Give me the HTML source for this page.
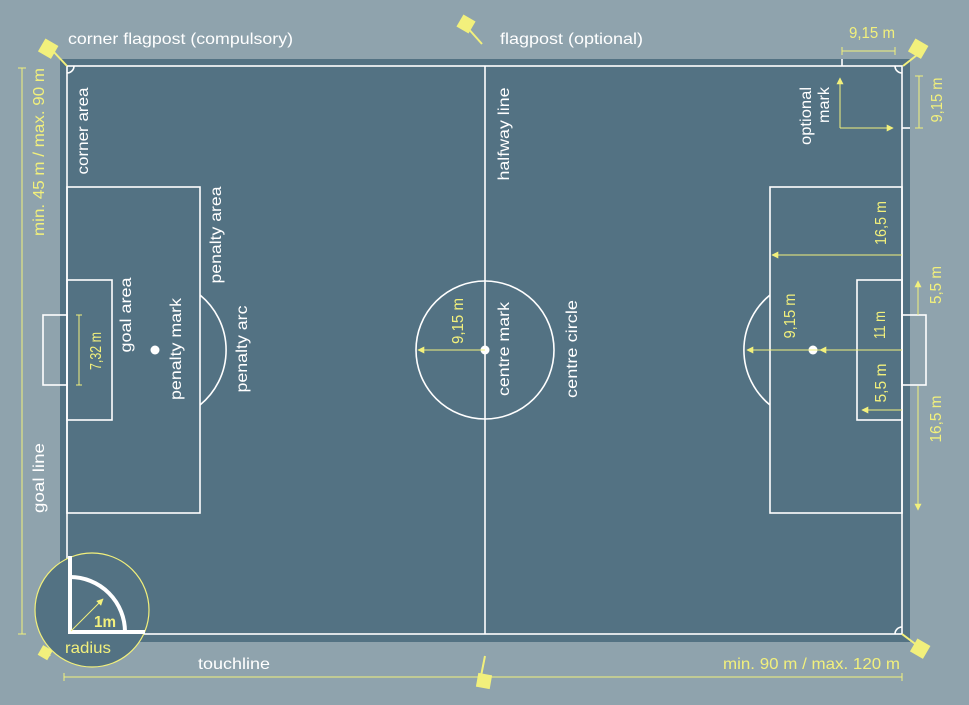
<!DOCTYPE html>
<html><head><meta charset="utf-8"><style>
html,body{margin:0;padding:0;background:#8fa3ad;}
svg{display:block;}
text{font-family:"Liberation Sans",sans-serif;font-size:16px;}
.w{fill:#ffffff;} .y{fill:#f2f07c;}
</style></head><body>
<svg width="969" height="705" viewBox="0 0 969 705" xmlns="http://www.w3.org/2000/svg">
<defs>
<marker id="a" viewBox="0 0 10 10" refX="9" refY="5" markerWidth="7" markerHeight="7" orient="auto-start-reverse" markerUnits="userSpaceOnUse"><path d="M0,0 L10,5 L0,10 z" fill="#f2f07c"/></marker>
</defs>
<rect x="0" y="0" width="969" height="705" fill="#8fa3ad"/>
<rect x="60" y="59" width="850" height="583" fill="#537283"/>
<g fill="none" stroke="#fff" stroke-width="1.6">
<rect x="67" y="66" width="835" height="568"/>
<line x1="485" y1="66" x2="485" y2="634"/>
<circle cx="485" cy="350" r="69"/>
<rect x="67" y="187" width="133" height="326"/>
<rect x="67" y="280" width="45" height="140"/>
<rect x="43" y="315" width="24" height="70"/>
<path d="M200,295 A71,71 0 0 1 200,405"/>
<rect x="770" y="187" width="132" height="326"/>
<rect x="857" y="280" width="45" height="140"/>
<rect x="902" y="315" width="24" height="70"/>
<path d="M770,295 A71,71 0 0 0 770,405"/>
<path d="M67,73 A7,7 0 0 0 74,66"/>
<path d="M895,66 A7,7 0 0 0 902,73"/>
<path d="M895,634 A7,7 0 0 1 902,627"/>
<line x1="842" y1="59" x2="842" y2="66"/>
<line x1="902" y1="128" x2="910" y2="128"/>
</g>
<circle cx="485" cy="350" r="4.5" fill="#fff"/>
<circle cx="155" cy="350" r="4.5" fill="#fff"/>
<circle cx="813" cy="350" r="4.5" fill="#fff"/>
<g stroke="#f2f07c" stroke-width="2" fill="#f2f07c">
<line x1="52" y1="50" x2="67" y2="66"/><rect x="42" y="42" width="13" height="13" transform="rotate(30 48 48)"/>
<line x1="466" y1="26" x2="482" y2="44"/><rect x="460" y="18" width="12" height="12" transform="rotate(30 466 24)"/>
<line x1="903" y1="66" x2="917" y2="55"/><rect x="912" y="42" width="13" height="13" transform="rotate(30 918 48)"/>
<line x1="902" y1="634" x2="918" y2="646"/><rect x="914" y="642" width="13" height="13" transform="rotate(30 920 648)"/>
<line x1="485" y1="656" x2="481" y2="676"/><rect x="478" y="675" width="12" height="12" transform="rotate(10 484 681)"/>
<line x1="45" y1="650" x2="50" y2="656"/><rect x="41" y="648" width="9" height="9" transform="rotate(30 45 652)"/>
</g>
<g stroke="#f2f07c" stroke-width="1" fill="none">
<line x1="22" y1="68" x2="22" y2="634"/><line x1="18" y1="68" x2="26" y2="68"/><line x1="18" y1="634" x2="26" y2="634"/>
<line x1="64" y1="677" x2="902" y2="677"/><line x1="64" y1="673" x2="64" y2="681"/><line x1="902" y1="673" x2="902" y2="681"/>
<line x1="842" y1="51" x2="895" y2="51"/><line x1="842" y1="47" x2="842" y2="55"/><line x1="895" y1="47" x2="895" y2="55"/>
<line x1="919" y1="76" x2="919" y2="128"/><line x1="915" y1="76" x2="923" y2="76"/><line x1="915" y1="128" x2="923" y2="128"/>
<line x1="79" y1="315" x2="79" y2="385"/><line x1="76" y1="315" x2="82" y2="315"/><line x1="76" y1="385" x2="82" y2="385"/>
<line x1="840" y1="128" x2="840" y2="78" marker-end="url(#a)"/>
<line x1="840" y1="128" x2="893" y2="128" marker-end="url(#a)"/>
<line x1="485" y1="350" x2="418" y2="350" marker-end="url(#a)"/>
<line x1="902" y1="255" x2="772" y2="255" marker-end="url(#a)"/>
<line x1="902" y1="350" x2="747" y2="350" marker-end="url(#a)"/>
<line x1="860" y1="350" x2="820" y2="350" marker-end="url(#a)"/>
<line x1="902" y1="410" x2="862" y2="410" marker-end="url(#a)"/>
<line x1="918" y1="315" x2="918" y2="281" marker-end="url(#a)"/>
<line x1="918" y1="386" x2="918" y2="510" marker-end="url(#a)"/>
</g>
<circle cx="92" cy="610" r="57" fill="#537283" stroke="#f2f07c" stroke-width="1.2"/>
<g fill="none" stroke="#fff" stroke-width="4">
<path d="M70,556 L70,632 L145,632"/>
<path d="M70,577 A55,55 0 0 1 125,632"/>
</g>
<line x1="71" y1="631" x2="103" y2="599" stroke="#f2f07c" stroke-width="1" marker-end="url(#a)"/>
<text class="y" x="94" y="627" textLength="22" lengthAdjust="spacingAndGlyphs" style="font-weight:bold">1m</text>
<text class="y" x="65" y="653" textLength="46" lengthAdjust="spacingAndGlyphs">radius</text>
<text class="w" x="68" y="44" textLength="225" lengthAdjust="spacingAndGlyphs">corner flagpost (compulsory)</text>
<text class="w" x="500" y="44" textLength="143" lengthAdjust="spacingAndGlyphs">flagpost (optional)</text>
<text class="w" x="198" y="669" textLength="72" lengthAdjust="spacingAndGlyphs">touchline</text>
<text class="y" x="723" y="669" textLength="177" lengthAdjust="spacingAndGlyphs">min. 90 m / max. 120 m</text>
<text class="y" x="849" y="38" textLength="46" lengthAdjust="spacingAndGlyphs">9,15 m</text>
<g text-anchor="middle">
<text class="y" transform="translate(44,152) rotate(-90)" textLength="168" lengthAdjust="spacingAndGlyphs">min. 45 m / max. 90 m</text>
<text class="w" transform="translate(88,131) rotate(-90)" textLength="87" lengthAdjust="spacingAndGlyphs">corner area</text>
<text class="w" transform="translate(44,478) rotate(-90)" textLength="70" lengthAdjust="spacingAndGlyphs">goal line</text>
<text class="w" transform="translate(221,235) rotate(-90)" textLength="97" lengthAdjust="spacingAndGlyphs">penalty area</text>
<text class="w" transform="translate(131,315) rotate(-90)" textLength="75" lengthAdjust="spacingAndGlyphs">goal area</text>
<text class="w" transform="translate(181,349) rotate(-90)" textLength="102" lengthAdjust="spacingAndGlyphs">penalty mark</text>
<text class="w" transform="translate(247,349) rotate(-90)" textLength="87" lengthAdjust="spacingAndGlyphs">penalty arc</text>
<text class="w" transform="translate(509,134) rotate(-90)" textLength="93" lengthAdjust="spacingAndGlyphs">halfway line</text>
<text class="w" transform="translate(509,349) rotate(-90)" textLength="94" lengthAdjust="spacingAndGlyphs">centre mark</text>
<text class="w" transform="translate(577,349) rotate(-90)" textLength="98" lengthAdjust="spacingAndGlyphs">centre circle</text>
<text class="w" transform="translate(811,116) rotate(-90)" textLength="58" lengthAdjust="spacingAndGlyphs">optional</text>
<text class="w" transform="translate(829,105) rotate(-90)" textLength="36" lengthAdjust="spacingAndGlyphs">mark</text>
<text class="y" transform="translate(101,351) rotate(-90)" textLength="38" lengthAdjust="spacingAndGlyphs">7,32 m</text>
<text class="y" transform="translate(463,321) rotate(-90)" textLength="46" lengthAdjust="spacingAndGlyphs">9,15 m</text>
<text class="y" transform="translate(942,100) rotate(-90)" textLength="45" lengthAdjust="spacingAndGlyphs">9,15 m</text>
<text class="y" transform="translate(886,223) rotate(-90)" textLength="44" lengthAdjust="spacingAndGlyphs">16,5 m</text>
<text class="y" transform="translate(941,285) rotate(-90)" textLength="38" lengthAdjust="spacingAndGlyphs">5,5 m</text>
<text class="y" transform="translate(795,316) rotate(-90)" textLength="45" lengthAdjust="spacingAndGlyphs">9,15 m</text>
<text class="y" transform="translate(885,325) rotate(-90)" textLength="28" lengthAdjust="spacingAndGlyphs">11 m</text>
<text class="y" transform="translate(886,383) rotate(-90)" textLength="39" lengthAdjust="spacingAndGlyphs">5,5 m</text>
<text class="y" transform="translate(941,419) rotate(-90)" textLength="47" lengthAdjust="spacingAndGlyphs">16,5 m</text>
</g>
</svg>
</body></html>
